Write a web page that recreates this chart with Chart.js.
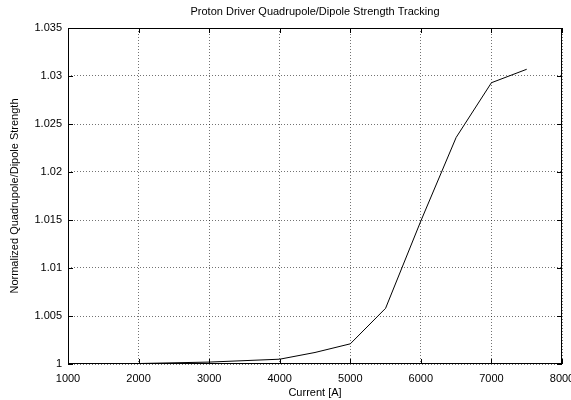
<!DOCTYPE html>
<html>
<head>
<meta charset="utf-8">
<script src="https://cdn.jsdelivr.net/npm/chart.js@4.4.0/dist/chart.umd.min.js"></script>
<style>
  html, body { margin: 0; padding: 0; background: #fff; }
  #wrap { width: 571px; height: 400px; }
</style>
</head>
<body>
<div id="wrap"><canvas id="c" width="571" height="400"></canvas></div>
<script>
// Magnet excitation current [A]
const current = [1000, 2000, 3000, 4000, 4500, 5000, 5500, 6000, 6500, 7000, 7500];
// Normalized quadrupole/dipole strength ratio at each current
const strengthRatio = [1.0, 1.00005, 1.0002, 1.0005, 1.0012, 1.0021, 1.0058, 1.0149, 1.0236, 1.0293, 1.0307];
// Axis tick values
const xTicks = [1000, 2000, 3000, 4000, 5000, 6000, 7000, 8000];
const yTicks = [1, 1.005, 1.01, 1.015, 1.02, 1.025, 1.03, 1.035];
const chartTitle = 'Proton Driver Quadrupole/Dipole Strength Tracking';

const FONT = 'Liberation Sans, Arial, Helvetica, sans-serif';

// Title centred over the plot area rather than the whole canvas
const plotTitlePlugin = {
  id: 'plotTitle',
  afterDraw(chart) {
    const { ctx, chartArea: a } = chart;
    ctx.save();
    ctx.fillStyle = '#000';
    ctx.font = '11px ' + FONT;
    ctx.textAlign = 'center';
    ctx.textBaseline = 'middle';
    ctx.fillText(chartTitle, (a.left + a.right) / 2, 12);
    ctx.restore();
  }
};

// Frame around the plot plus short inward tick marks on all four sides
const framePlugin = {
  id: 'frame',
  afterDatasetsDraw(chart) {
    const { ctx, chartArea: a, scales } = chart;
    ctx.save();
    ctx.strokeStyle = '#000';
    ctx.lineWidth = 1;
    ctx.setLineDash([]);
    ctx.strokeRect(Math.round(a.left) + 0.5, Math.round(a.top) + 0.5,
                   Math.round(a.right - a.left) - 1, Math.round(a.bottom - a.top) - 1);
    const len = 5;
    ctx.beginPath();
    xTicks.forEach(v => {
      const px = Math.round(scales.x.getPixelForValue(v)) + 0.5;
      ctx.moveTo(px, a.bottom); ctx.lineTo(px, a.bottom - len);
      ctx.moveTo(px, a.top); ctx.lineTo(px, a.top + len);
    });
    yTicks.forEach(v => {
      const py = Math.round(scales.y.getPixelForValue(v)) + 0.5;
      ctx.moveTo(a.left, py); ctx.lineTo(a.left + len, py);
      ctx.moveTo(a.right, py); ctx.lineTo(a.right - len, py);
    });
    ctx.stroke();
    ctx.restore();
  }
};

new Chart(document.getElementById('c'), {
  type: 'line',
  data: {
    datasets: [{
      data: current.map((x, i) => ({ x, y: strengthRatio[i] })),
      borderColor: '#000',
      borderWidth: 1,
      pointRadius: 0,
      tension: 0,
      fill: false
    }]
  },
  options: {
    responsive: false,
    animation: false,
    layout: { autoPadding: false, padding: { left: 0, right: 9, top: 28, bottom: 0 } },
    plugins: {
      legend: { display: false },
      tooltip: { enabled: false },
      title: { display: false }
    },
    scales: {
      x: {
        type: 'linear',
        min: 1000, max: 8000,
        afterBuildTicks(s) { s.ticks = xTicks.map(v => ({ value: v })); },
        afterFit(s) { s.height = 36; s.paddingLeft = 0; s.paddingRight = 0; },
        ticks: {
          color: '#000',
          font: { family: FONT, size: 11 },
          padding: 8,
          maxRotation: 0,
          callback: v => String(v)
        },
        grid: {
          color: 'rgba(0,0,0,0.55)',
          lineWidth: 1,
          drawTicks: false
        },
        border: { display: false, dash: [1, 2] },
        title: {
          display: true,
          text: 'Current [A]',
          color: '#000',
          font: { family: FONT, size: 11 },
          padding: { top: 0, bottom: 0 }
        }
      },
      y: {
        type: 'linear',
        min: 1, max: 1.035,
        afterBuildTicks(s) { s.ticks = yTicks.map(v => ({ value: v })); },
        afterFit(s) { s.width = 68; s.paddingTop = 0; s.paddingBottom = 0; },
        ticks: {
          color: '#000',
          font: { family: FONT, size: 11 },
          padding: 6,
          callback: v => String(+v.toFixed(3))
        },
        grid: {
          color: 'rgba(0,0,0,0.55)',
          lineWidth: 1,
          drawTicks: false
        },
        border: { display: false, dash: [1, 2] },
        title: {
          display: true,
          text: 'Normalized Quadrupole/Dipole Strength',
          color: '#000',
          font: { family: FONT, size: 11 },
          padding: { top: 8, bottom: 0 }
        }
      }
    }
  },
  plugins: [framePlugin, plotTitlePlugin]
});
</script>
</body>
</html>
